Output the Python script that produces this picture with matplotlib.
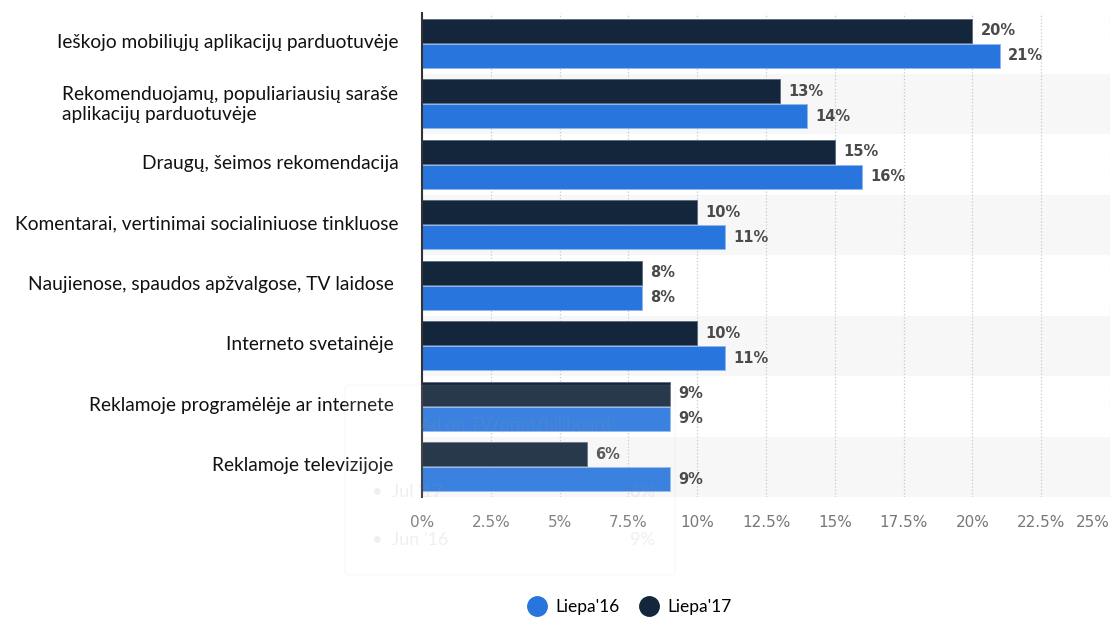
import matplotlib.pyplot as plt
from matplotlib.lines import Line2D
from matplotlib.patches import FancyBboxPatch
import numpy as np

categories = [
    "Ieškojo mobiliųjų aplikacijų parduotuvėje",
    "Rekomenduojamų, populiariausių saraše\naplikacijų parduotuvėje",
    "Draugų, šeimos rekomendacija",
    "Komentarai, vertinimai socialiniuose tinkluose",
    "Naujienose, spaudos apžvalgose, TV laidose ",
    "Interneto svetainėje ",
    "Reklamoje programėlėje ar internete ",
    "Reklamoje televizijoje ",
]
liepa16 = [21, 14, 16, 11, 8, 11, 9, 9]
liepa17 = [20, 13, 15, 10, 8, 10, 9, 6]
xticks = [0, 2.5, 5, 7.5, 10, 12.5, 15, 17.5, 20, 22.5, 25]

c16 = '#2876dd'
c17 = '#13263b'

plt.rcParams['font.family'] = ['Lato', 'DejaVu Sans']

fig = plt.figure(figsize=(11.15, 6.17), dpi=100)
ax = fig.add_axes([422 / 1115, 1 - 497 / 617, 688 / 1115, 484 / 617])

y = np.arange(len(categories))
h = 0.4

# alternating row shading
for i in y:
    if i % 2 == 1:
        ax.axhspan(i - 0.5, i + 0.5, color='#f7f7f7', zorder=0, lw=0)

ax.barh(y - 0.205, liepa17, height=h, color=c17, edgecolor='#5a6b7d', lw=0.6, zorder=3)
ax.barh(y + 0.205, liepa16, height=h, color=c16, edgecolor='#8fb6ee', lw=0.6, zorder=3)

for i in y:
    ax.text(liepa17[i] + 0.3, i - 0.205, f'{liepa17[i]}%', va='center', ha='left',
            fontsize=10.5, fontweight='bold', color='#4a4a4a', family='DejaVu Sans', zorder=4)
    ax.text(liepa16[i] + 0.3, i + 0.205, f'{liepa16[i]}%', va='center', ha='left',
            fontsize=10.5, fontweight='bold', color='#4a4a4a', family='DejaVu Sans', zorder=4)

ax.set_xlim(0, 25)
ax.set_ylim(len(categories) - 0.5, -0.5)
ax.set_xticks(xticks)
ax.set_xticklabels([f'{t:g}%' for t in xticks], color='#777777', fontsize=11,
                   family='Liberation Sans Narrow')
ax.get_xticklabels()[-1].set_ha('right')
ax.set_yticks(y - 0.04)
ax.set_yticklabels(categories, fontsize=13.8, color='#111111', multialignment='left')
ax.tick_params(axis='both', length=0)
ax.tick_params(axis='x', pad=13)
ax.tick_params(axis='y', pad=17)

ax.grid(axis='x', linestyle=':', color='#c8c8c8', lw=0.9, zorder=1)
ax.set_axisbelow(True)
for s in ['top', 'right', 'bottom']:
    ax.spines[s].set_visible(False)
ax.spines['left'].set_color('#333333')
ax.spines['left'].set_linewidth(1.5)
ax.spines['left'].set_zorder(5)

# faded tooltip box
box = FancyBboxPatch((345 / 1115, 1 - 575 / 617), 330 / 1115, 190 / 617,
                     boxstyle='round,pad=0,rounding_size=0.004', transform=fig.transFigure,
                     facecolor='white', alpha=0.09, edgecolor='#bbbbbb', lw=0.8, zorder=10)
fig.add_artist(box)
faint = dict(transform=fig.transFigure, color='#999999', alpha=0.15, zorder=11)
fig.text(420 / 1115, 1 - 425 / 617, 'Ad on TV/print/billboard', fontsize=12.5,
         va='center', **faint)
fig.text(372 / 1115, 1 - 492 / 617, '•  Jul \'17', fontsize=13, va='center', **faint)
fig.text(655 / 1115, 1 - 492 / 617, '6%', fontsize=13, va='center', ha='right', **faint)
fig.text(372 / 1115, 1 - 540 / 617, '•  Jun \'16', fontsize=13, va='center', **faint)
fig.text(655 / 1115, 1 - 540 / 617, '9%', fontsize=13, va='center', ha='right', **faint)

handles = [Line2D([], [], marker='o', ls='', color=c16, markersize=14),
           Line2D([], [], marker='o', ls='', color=c17, markersize=14)]
fig.legend(handles, ["Liepa'16", "Liepa'17"], loc='center', ncol=2,
           bbox_to_anchor=(0.561, 1 - 607 / 617), frameon=False, fontsize=12.5,
           handletextpad=0.05, columnspacing=0.7)

fig.savefig('out.png', dpi=100)
